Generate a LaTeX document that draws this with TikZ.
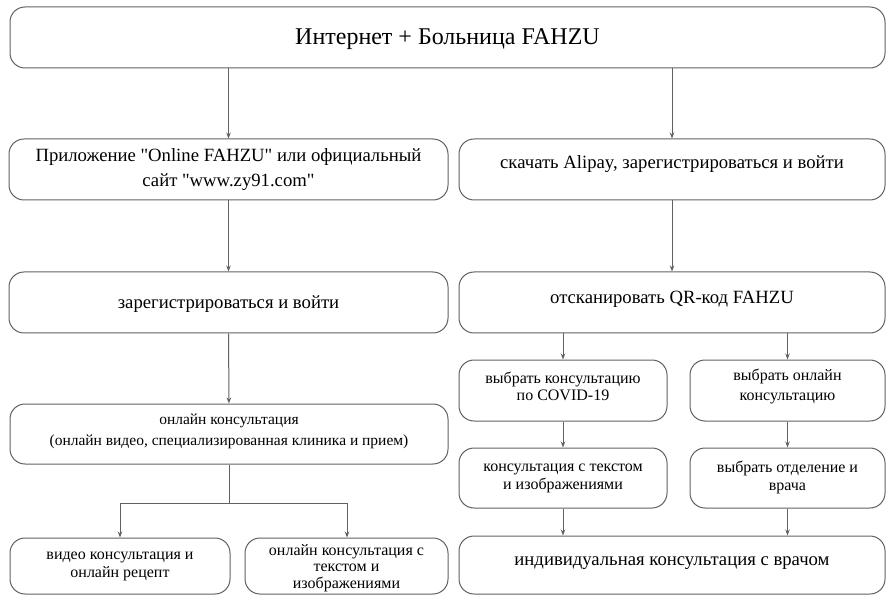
\documentclass[tikz,border=0pt]{standalone}
\usepackage{fontspec}
\setmainfont{Liberation Serif}[Ligatures=TeXOff]
\usetikzlibrary{arrows.meta}
\begin{document}
\begin{tikzpicture}[x=1pt,y=-1pt,
  box/.style={draw=black!62, line width=1pt, rounded corners=15pt, rectangle, inner sep=0pt},
  tx/.style={align=center, inner sep=0pt},
  big/.style={font=\fontsize{18.7}{24}\selectfont},
  sml/.style={font=\fontsize{16}{18}\selectfont},
  arr/.style={draw=black!62, line width=1pt, -{Stealth[length=6pt,width=4.5pt]}},
  ln/.style={draw=black!62, line width=1pt}]
\useasboundingbox (0,0) rectangle (887,596);
\node[box, minimum width=875pt, minimum height=61pt,
  label={[tx, font=\fontsize{24}{28}\selectfont, yshift=-2pt]center:Интернет + Больница FAHZU}] (top) at (447.5,37.5) {};
\node[box, minimum width=439pt, minimum height=61pt,
  label={[tx, font=\fontsize{18.7}{25}\selectfont]center:{Приложение "Online FAHZU" или официальный\\сайт "www.zy91.com"}}] (app) at (228.5,169.5) {};
\node[box, minimum width=426pt, minimum height=61pt,
  label={[tx, big, yshift=5.5pt]center:{скачать Alipay, зарегистрироваться и войти}}] (ali) at (672,169.5) {};
\node[box, minimum width=439pt, minimum height=61pt,
  label={[tx, big, yshift=-2pt]center:{зарегистрироваться и войти}}] (reg) at (228.5,302.5) {};
\node[box, minimum width=426pt, minimum height=61pt,
  label={[tx, big, yshift=3.5pt]center:{отсканировать QR-код FAHZU}}] (qr) at (672,302.5) {};
\node[box, minimum width=438pt, minimum height=60pt,
  label={[tx, font=\fontsize{15.5}{21}\selectfont, yshift=3pt]center:{онлайн консультация\\(онлайн видео, специализированная клиника и прием)}}] (cons) at (229,434) {};
\node[box, minimum width=220pt, minimum height=56pt,
  label={[tx, sml, yshift=0pt]center:{видео консультация и\\онлайн рецепт}}] (video) at (120,566) {};
\node[box, minimum width=203pt, minimum height=56pt,
  label={[tx, font=\fontsize{16}{16.5}\selectfont, yshift=-2pt]center:{онлайн консультация с\\текстом и\\изображениями}}] (txt) at (346.5,566) {};
\node[box, minimum width=208pt, minimum height=61pt,
  label={[tx, font=\fontsize{16}{17.5}\selectfont, yshift=4pt]center:{выбрать консультацию\\по COVID-19}}] (covid) at (563,390.5) {};
\node[box, minimum width=195pt, minimum height=61pt,
  label={[tx, font=\fontsize{16}{20}\selectfont, yshift=4pt]center:{выбрать онлайн\\консультацию}}] (onl) at (787.5,390.5) {};
\node[box, minimum width=208pt, minimum height=60pt,
  label={[tx, sml, yshift=0pt]center:{консультация с текстом\\и изображениями}}] (ctxt) at (563,478) {};
\node[box, minimum width=195pt, minimum height=60pt,
  label={[tx, sml, yshift=1pt]center:{выбрать отделение и\\врача}}] (dep) at (787.5,478) {};
\node[box, minimum width=426pt, minimum height=58pt,
  label={[tx, big, yshift=2pt]center:{индивидуальная консультация с врачом}}] (ind) at (672,565) {};
% connectors
\draw[arr] (top.south -| app) -- (app.north);
\draw[arr] (top.south -| ali) -- (ali.north);
\draw[arr] (app) -- (reg);
\draw[arr] (ali) -- (qr);
\draw[arr] (reg) -- (cons);
\coordinate (br) at (229,503);
\draw[ln] (cons.south) -- (br);
\draw[arr] (br) -| (video.north -| 120,0);
\draw[arr] (br) -| (txt.north -| 347,0);
\draw[arr] (qr.south -| covid) -- (covid.north);
\draw[arr] (qr.south -| onl) -- (onl.north);
\draw[arr] (covid) -- (ctxt);
\draw[arr] (onl) -- (dep);
\draw[arr] (ctxt.south) -- (ind.north -| ctxt);
\draw[arr] (dep.south) -- (ind.north -| dep);
\end{tikzpicture}
\end{document}
